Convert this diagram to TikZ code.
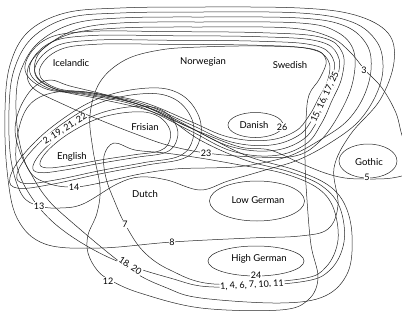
\documentclass[tikz,border=0pt]{standalone}
\usepackage{fontspec}
\setmainfont{Lato}
\begin{document}
\begin{tikzpicture}[x=1pt,y=-1pt,
  iso/.style={draw=black!85, line width=0.5pt},
  lang/.style={font=\fontsize{9.5}{11}\selectfont, inner sep=1pt},
  tag/.style={font=\fontsize{9}{10}\selectfont, fill=white, inner sep=0.8pt}]
\useasboundingbox (0,0) rectangle (402,322);
\begin{scope}
\clip (0,0) rectangle (402,322);
% single-language ellipses
\draw[iso] (255.5,125) ellipse [x radius=27.5pt, y radius=12.5pt];
\draw[iso] (368,161) ellipse [x radius=29pt, y radius=17pt];
\draw[iso] (257,201) ellipse [x radius=47.5pt, y radius=20pt];
\draw[iso] (256,261) ellipse [x radius=48pt, y radius=15pt];
% North Germanic bundle (15, 16, 17, 25)
\foreach \d in {-7,-2.5,2.5,7}{
  \pgfmathsetmacro\sx{1+\d/150}
  \pgfmathsetmacro\sy{1+\d/55}
  \draw[iso, shift={(185,88)}, xscale=\sx, yscale=\sy] plot[smooth cycle, tension=0.65] coordinates
   {(-153,-18) (-135,-42) (-95,-50) (-15,-50) (75,-49) (130,-45) (150,-32) (150,-10) (140,12) (130,32) (115,50) (85,60) (45,56) (5,38) (-45,16) (-95,6) (-135,0)};
}
% Anglo-Frisian bundle (2, 19, 21, 22)
\foreach \d in {-17,-9,9,17}{
  \pgfmathsetmacro\sx{1+\d/90}
  \pgfmathsetmacro\sy{1+\d/60}
  \draw[iso, shift={(105,142)}, xscale=\sx, yscale=\sy] plot[smooth cycle, tension=0.65] coordinates
   {(-80,28) (-67,8) (-40,-15) (-5,-34) (35,-42) (62,-38) (78,-22) (80,-3) (68,12) (35,18) (-5,25) (-45,33) (-73,36)};
}
% 8
\draw[iso] plot[smooth cycle, tension=0.6] coordinates {(200,7) (300,8) (355,15) (388,33) (394,62) (380,100) (350,135) (334,168) (338,205) (328,229) (300,236) (250,238) (172,242) (100,248) (45,244) (17,218) (7,170) (5,110) (10,65) (28,32) (65,13) (120,8)};
% 13
\draw[iso] plot[smooth cycle, tension=0.6] coordinates {(200,12) (300,13) (352,22) (377,42) (383,68) (376,95) (358,122) (330,143) (298,160) (262,171) (228,181) (200,190) (167,180) (140,177) (117,184) (83,204) (60,208) (39,206) (22,195) (11,160) (9,110) (14,70) (32,38) (68,18) (120,13)};
% 14
\draw[iso] plot[smooth cycle, tension=0.6] coordinates {(200,17) (300,18) (345,26) (367,45) (371,70) (363,98) (346,122) (320,140) (292,155) (262,163) (235,167) (205,168) (175,169) (140,174) (100,183) (74,187) (50,184) (30,172) (19,140) (16,100) (21,70) (38,43) (72,24) (120,18)};
% 23
\draw[iso] plot[smooth cycle, tension=0.6] coordinates {(206,153) (255,157) (295,156) (318,143) (337,118) (352,85) (354,52) (337,32) (300,23) (200,22) (120,23) (75,30) (44,48) (28,68) (33,88) (67,106) (100,120) (133,133) (167,145)};
% 3
\draw[iso] plot[smooth cycle, tension=0.6] coordinates {(200,27) (290,28) (330,37) (350,52) (365,70) (382,88) (396,113) (404,140) (420,155) (410,172) (392,178) (367,179) (345,178) (325,173) (300,163) (270,150) (240,147) (200,132) (150,111) (100,99) (58,90) (36,75) (40,52) (70,34) (120,28)};
% 12
\draw[iso] plot[smooth cycle, tension=0.6] coordinates {(200,47) (262,46) (312,49) (326,60) (320,78) (309,95) (306,120) (305,160) (307,200) (311,245) (318,278) (308,300) (280,310) (201,308) (140,293) (110,280) (97,270) (88,253) (88,235) (97,213) (100,187) (93,150) (90,115) (100,82) (125,60) (160,50)};
% 7
\draw[iso] plot[smooth cycle, tension=0.6] coordinates {(125,224) (143,251) (170,270) (214,284) (300,279) (326,267) (338,240) (333,207) (316,187) (282,173) (240,165) (200,158) (165,153) (135,150) (114,143) (104,156) (106,178) (114,200)};
% 18, 20
\draw[iso] plot[smooth cycle, tension=0.6] coordinates {(33,88) (20,108) (15,130) (20,152) (30,172) (45,196) (67,218) (128,268) (167,288) (201,298) (280,303) (325,296) (348,272) (352,235) (345,205) (328,185) (295,170) (250,157) (210,138) (160,112) (110,96) (70,86) (50,80)};
% 1, 4, 6, 10, 11
\draw[iso] plot[smooth cycle, tension=0.6] coordinates {(22,118) (16,160) (30,195) (60,228) (110,258) (170,278) (214,287) (300,282) (330,270) (344,242) (340,208) (322,186) (290,172) (245,160) (200,140) (160,113) (120,99) (75,91) (40,97)};
\end{scope}
% language names
\node[lang] (ice) at (71,63) {Icelandic};
\node[lang] (nor) at (203,62) {Norwegian};
\node[lang] (swe) at (290,65) {Swedish};
\node[lang] (dan) at (254,125) {Danish};
\node[lang] (fri) at (145,127) {Frisian};
\node[lang] (eng) at (72,157) {English};
\node[lang] (dut) at (145,194) {Dutch};
\node[lang] (got) at (369,162) {Gothic};
\node[lang] (lg) at (258,200) {Low German};
\node[lang] (hg) at (259,259) {High German};
% isogloss numbers
\node[tag] (n3) at (364,70) {3};
\node[tag] (n26) at (282,127) {26};
\node[tag] (n5) at (367,177) {5};
\node[tag, rotate=65] (n15) at (325,97) {15, 16, 17, 25};
\node[tag, rotate=32] (n2) at (65,129) {2, 19, 21, 22};
\node[tag] (n23) at (206,153) {23};
\node[tag] (n14) at (74,187) {14};
\node[tag] (n13) at (39,206) {13};
\node[tag] (n7) at (125,224) {7};
\node[tag] (n8) at (172,242) {8};
\node[tag, rotate=-34] (n18) at (130,266) {18, 20};
\node[tag] (n12) at (108,281) {12};
\node[tag] (n24) at (256,275) {24};
\node[tag, rotate=3] (n1) at (252,285) {1, 4, 6, 7, 10, 11};
\end{tikzpicture}
\end{document}
